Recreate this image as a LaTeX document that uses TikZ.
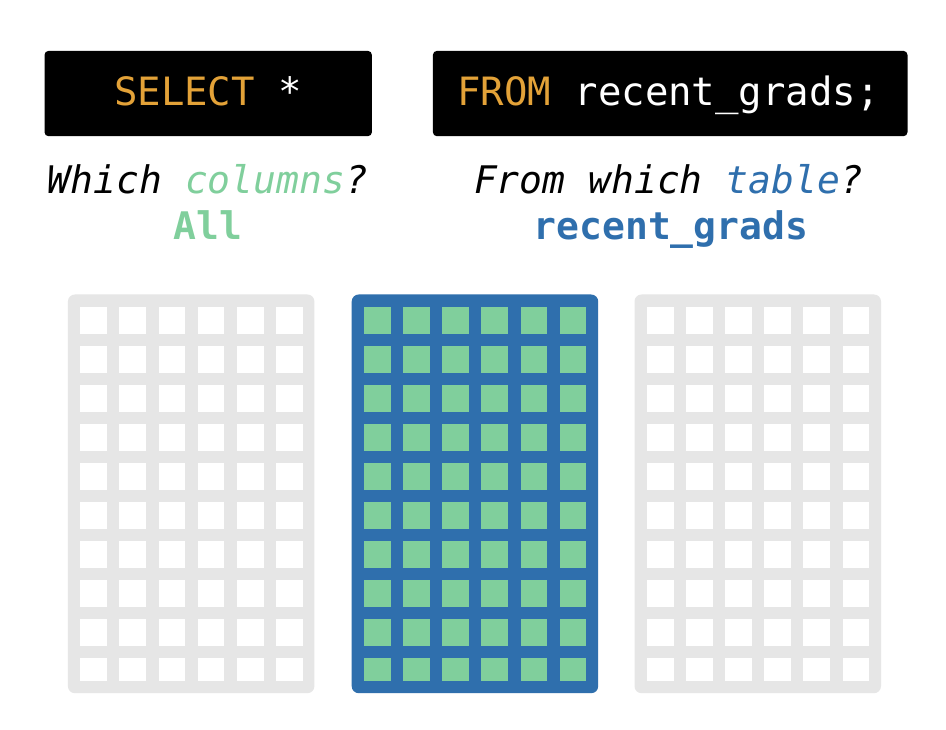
\documentclass[tikz,border=0pt]{standalone}
\usepackage{fontspec}
\setmonofont{DejaVu Sans Mono}
\definecolor{sqlgold}{HTML}{E3A238}
\definecolor{qgreen}{HTML}{80CF9C}
\definecolor{qblue}{HTML}{2F6FAD}
\definecolor{tgray}{HTML}{E6E6E6}
\begin{document}
\begin{tikzpicture}[x=1pt,y=-1pt,
  codebox/.style={fill=black, rounded corners=4pt, inner sep=0pt, anchor=north west},
  codetxt/.style={anchor=base, inner sep=0pt, text=white, font=\ttfamily\fontsize{39}{39}\selectfont},
  qtxt/.style={anchor=base, inner sep=0pt, font=\ttfamily\itshape\fontsize{38}{38}\selectfont},
  atxt/.style={anchor=base, inner sep=0pt, font=\ttfamily\bfseries\fontsize{38}{38}\selectfont},
  tbl/.style={rounded corners=7pt, inner sep=0pt, anchor=north west, minimum width=246.5pt, minimum height=398.7pt},
  cellbox/.style={inner sep=0pt, anchor=north west, minimum width=26.7pt},
]
\useasboundingbox (0,0) rectangle (946,730);
\fill[white] (0,0) rectangle (946,730);

% code boxes
\node[codebox, minimum width=327.4pt, minimum height=85.3pt] (selbox) at (44.3,50.7) {};
\node[codebox, minimum width=474.6pt, minimum height=85.3pt] (frombox) at (432.7,50.7) {};
\node[codetxt] (seltxt) at (208,105.7) {\textcolor{sqlgold}{SELECT} *};
\node[codetxt] (fromtxt) at (668.5,105.7) {\textcolor{sqlgold}{FROM} recent\_grads;};

% questions
\node[qtxt] (q1) at (208,194) {Which \textcolor{qgreen}{columns}?};
\node[qtxt] (q2) at (668.5,194) {From which \textcolor{qblue}{table}?};
\node[atxt, text=qgreen] (a1) at (208,240) {All};
\node[atxt, text=qblue] (a2) at (671,240) {recent\_grads};

% tables
\foreach \name/\L/\bg/\fg in {tleft/67.7/tgray/white, tmid/351.5/qblue/qgreen, tright/634.3/tgray/white}{
  \node[tbl, fill=\bg] (\name) at (\L,294.3) {};
  \foreach \i in {0,...,5}{
    \foreach \j in {0,...,8}{
      \node[cellbox, fill=\fg, minimum height=26.7pt] (\name-\i-\j) at ({\L+12.3+\i*39.15},{306.7+\j*39}) {};
    }
    \node[cellbox, fill=\fg, minimum height=23pt] (\name-\i-9) at ({\L+12.3+\i*39.15},{306.7+9*39}) {};
  }
}
\end{tikzpicture}
\end{document}
